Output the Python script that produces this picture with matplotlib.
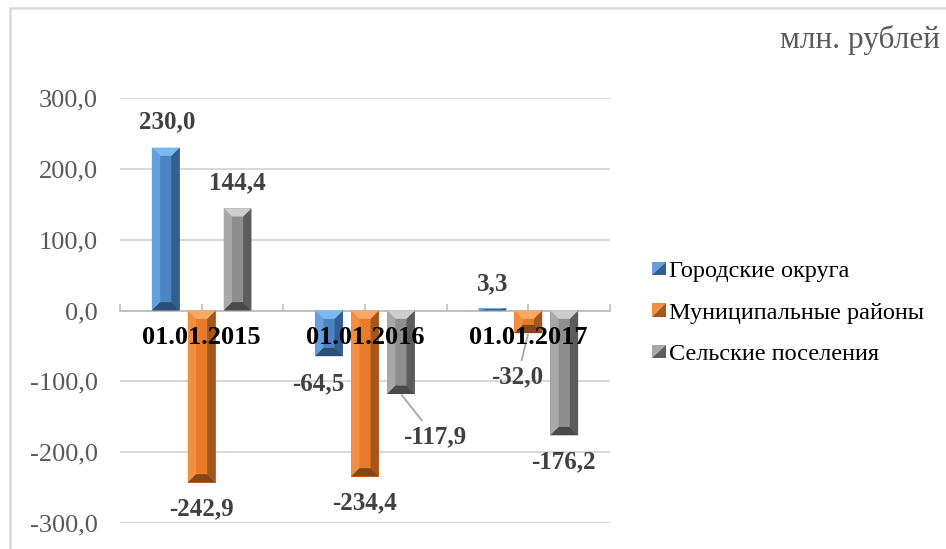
import numpy as np
import matplotlib
matplotlib.use("Agg")
import matplotlib.pyplot as plt
from matplotlib.patches import Polygon, Rectangle
from matplotlib.legend_handler import HandlerPatch

plt.rcParams["font.family"] = ["Liberation Serif", "DejaVu Serif"]

# --- data -------------------------------------------------------------
categories = ["01.01.2015", "01.01.2016", "01.01.2017"]
series_names = ["Городские округа", "Муниципальные районы", "Сельские поселения"]
gorodskie = [230.0, -64.5, 3.3]
municipalnye = [-242.9, -234.4, -32.0]
selskie = [144.4, -117.9, -176.2]
y_ticks = [-300, -200, -100, 0, 100, 200, 300]
unit_label = "млн. рублей"

# --- style ------------------------------------------------------------
# face, left side, right side, top bevel, bottom bevel
PALETTE = [
    ("#4d84c4", "#64a0dc", "#335f90", "#7cb8f0", "#2b4f78"),  # blue
    ("#e87c2c", "#f28e40", "#a5561c", "#f7a862", "#86461a"),  # orange
    ("#8e8e8e", "#a8a8a8", "#5c5c5c", "#cdcdcd", "#4a4a4a"),  # gray
]
OFFSETS = [-0.22, 0.0, 0.22]
BAR_W = 0.17
# data label offsets in pixels from bar end (dx, dy) and leader-line flags
LABEL_OFFS = [
    [(1, 26), (-11, -28), (0, 24)],
    [(0, -26), (0, -26), (-11, -44)],
    [(0, 25), (34, -43), (-1, -27)],
]
LEADER = [
    [False, False, False],
    [False, False, True],
    [False, True, False],
]

W, H = 946, 549
fig = plt.figure(figsize=(W / 100, H / 100), dpi=100)
ax_l, ax_b, ax_w, ax_h = 120, 26, 490, 425
ax = fig.add_axes([ax_l / W, ax_b / H, ax_w / W, ax_h / H])

ax.set_xlim(-0.5, len(categories) - 0.5)
ax.set_ylim(min(y_ticks), max(y_ticks))

# data units per pixel, so the bevel has equal pixel depth on both axes
px_x = len(categories) / ax_w
px_y = (max(y_ticks) - min(y_ticks)) / ax_h


def bevel(patch, colors):
    face, left, right, top, bottom = colors
    x0 = patch.get_x()
    w = patch.get_width()
    x1 = x0 + w
    ya = patch.get_y()
    yb = ya + patch.get_height()
    lo, hi = min(ya, yb), max(ya, yb)
    bx = 0.3 * w
    by = min(bx / px_x * px_y, (hi - lo) / 2)
    polys = [
        ([[x0, lo], [x0, hi], [x0 + bx, hi - by], [x0 + bx, lo + by]], left),
        ([[x1, lo], [x1, hi], [x1 - bx, hi - by], [x1 - bx, lo + by]], right),
        ([[x0, hi], [x1, hi], [x1 - bx, hi - by], [x0 + bx, hi - by]], top),
        ([[x0, lo], [x1, lo], [x1 - bx, lo + by], [x0 + bx, lo + by]], bottom),
    ]
    for pts, c in polys:
        ax.add_patch(Polygon(pts, closed=True, facecolor=c, lw=0, zorder=3))


x = np.arange(len(categories))
all_series = [gorodskie, municipalnye, selskie]
for s, vals in enumerate(all_series):
    bars = ax.bar(x + OFFSETS[s], vals, BAR_W, color=PALETTE[s][0], lw=0, zorder=2)
    for i, (patch, v) in enumerate(zip(bars, vals)):
        bevel(patch, PALETTE[s])
        dx, dy = LABEL_OFFS[s][i]
        arrow = None
        if LEADER[s][i]:
            arrow = dict(arrowstyle="-", color="#a6a6a6", lw=1.3, shrinkA=2, shrinkB=1)
        ax.annotate(f"{v:.1f}".replace(".", ","), xy=(x[i] + OFFSETS[s], v),
                    xytext=(dx, dy), textcoords="offset pixels",
                    ha="center", va="center", fontsize=18, fontweight="bold",
                    color="#404040", zorder=5, arrowprops=arrow)

# category labels sit just under the zero line
for i, cat in enumerate(categories):
    ax.annotate(cat, xy=(i, 0), xytext=(0, -27), textcoords="offset pixels",
                ha="center", va="center", fontsize=19, fontweight="bold",
                color="black", zorder=6)

# axes styling
for side in ("top", "right", "left"):
    ax.spines[side].set_visible(False)
ax.spines["bottom"].set_position(("data", 0))
ax.spines["bottom"].set_color("#bfbfbf")
ax.spines["bottom"].set_linewidth(1.3)
ax.set_xticks(np.arange(-0.5, len(categories), 0.5))
ax.tick_params(axis="x", direction="in", length=5, color="#bfbfbf", width=1.2,
               labelbottom=False)
ax.set_yticks(y_ticks)
ax.set_yticklabels([f"{t:.1f}".replace(".", ",") for t in y_ticks])
ax.tick_params(axis="y", length=0, pad=16, labelsize=19, labelcolor="#595959")
ax.set_axisbelow(True)
ax.yaxis.grid(True, color="#d9d9d9", lw=1.5)


# legend with small bevelled squares
class BevelSquare(HandlerPatch):
    def create_artists(self, legend, orig_handle, xdescent, ydescent,
                       width, height, fontsize, trans):
        s = min(width, height)
        x0 = -xdescent + (width - s) / 2
        y0 = -ydescent + (height - s) / 2
        hi = Polygon([[x0, y0], [x0, y0 + s], [x0 + s, y0 + s]],
                     facecolor=orig_handle.get_facecolor(), lw=0, transform=trans)
        lo = Polygon([[x0, y0], [x0 + s, y0], [x0 + s, y0 + s]],
                     facecolor=orig_handle.get_edgecolor(), lw=0, transform=trans)
        return [hi, lo]


handles = [Rectangle((0, 0), 1, 1, facecolor=p[1], edgecolor=p[2]) for p in PALETTE]
fig.legend(handles, series_names, loc="center left",
           bbox_to_anchor=(640 / W, 1 - 313 / H), bbox_transform=fig.transFigure,
           frameon=False, fontsize=17.5, handlelength=0.55, handleheight=0.55,
           handletextpad=0.15, labelspacing=0.85, borderpad=0,
           handler_map={Rectangle: BevelSquare()})

fig.text(940 / W, 1 - 40 / H, unit_label, ha="right", va="center",
         fontsize=22.5, color="#595959")

# light frame around the chart area (runs off the right/bottom edge)
fig.add_artist(Rectangle((10 / W, -0.1), 1.0, 1.1 - 8 / H, transform=fig.transFigure,
                         fill=False, edgecolor="#d9d9d9", lw=1.8))

fig.savefig("out.png", dpi=100)
